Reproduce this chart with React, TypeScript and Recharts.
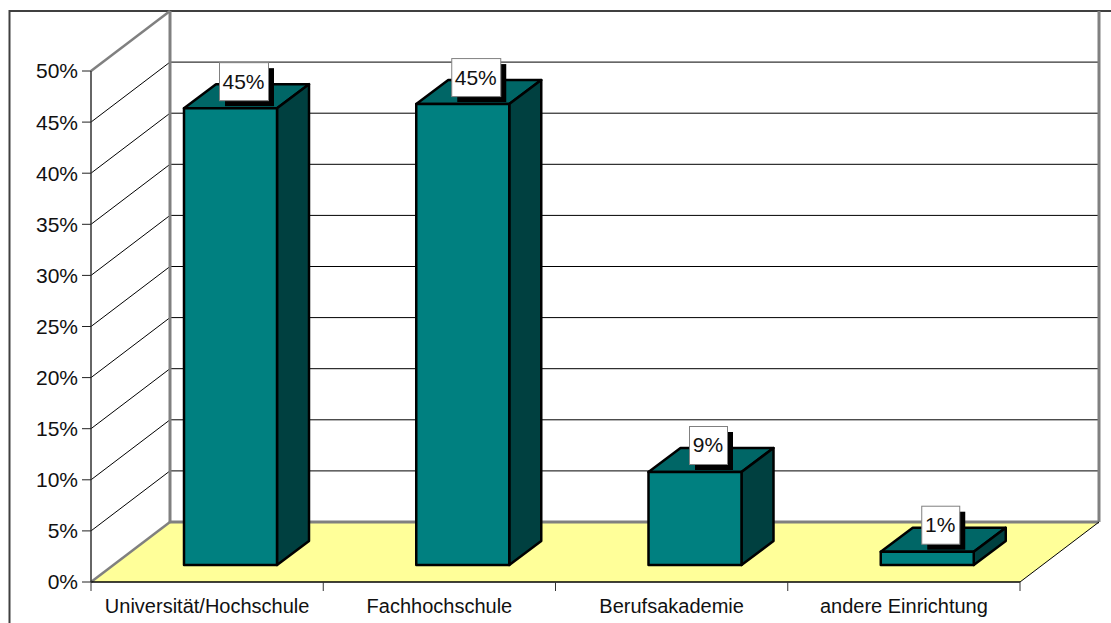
import React from "react";
import { BarChart, Bar, XAxis, YAxis, CartesianGrid, ReferenceArea, LabelList } from "recharts";

const categories = ["Universität/Hochschule", "Fachhochschule", "Berufsakademie", "andere Einrichtung"];
const shares = [44.7, 45.1, 9.1, 1.3];
const shownLabels = ["45%", "45%", "9%", "1%"];
const yTicks = [0, 5, 10, 15, 20, 25, 30, 35, 40, 45, 50];

const rows = categories.map((name, i) => ({ name, share: shares[i], label: shownLabels[i] }));

const FONT = "'Liberation Sans', Arial, sans-serif";
const WALL_DX = 79;
const WALL_DY = 60;
const BAR_DX = 32;
const BAR_DY = 24;
const BAR_SHIFT_X = 23;
const BAR_SHIFT_Y = 17;

const Walls = (p: any) => {
  const { x, y, width, height } = p;
  const r = x + width;
  const b = y + height;
  const g = "#808080";
  return (
    <g>
      <path d="M1111 11H9.5V623" fill="none" stroke="#404040" strokeWidth={2} />
      <polygon points={`${x},${b} ${x + WALL_DX},${b - WALL_DY} ${r + WALL_DX},${b - WALL_DY} ${r},${b}`} fill="#FFFF99" />
      <line x1={x + WALL_DX} y1={y - WALL_DY} x2={x + WALL_DX} y2={b - WALL_DY} stroke={g} strokeWidth={3} />
      <line x1={r + WALL_DX} y1={y - WALL_DY} x2={r + WALL_DX} y2={b - WALL_DY} stroke={g} strokeWidth={3} />
      <line x1={x + WALL_DX} y1={b - WALL_DY} x2={r + WALL_DX} y2={b - WALL_DY} stroke={g} strokeWidth={3} />
      <line x1={x} y1={y} x2={x + WALL_DX} y2={y - WALL_DY} stroke={g} strokeWidth={2.5} />
      <line x1={x} y1={b} x2={x + WALL_DX} y2={b - WALL_DY} stroke={g} strokeWidth={2.5} />
      <line x1={r} y1={b} x2={r + WALL_DX} y2={b - WALL_DY} stroke="#000" strokeWidth={1} />
    </g>
  );
};

const GridLine = (p: any) => {
  const { x1, y1, x2, y2, index } = p;
  if (index === 0 || index === yTicks.length - 1) return <g key={p.key} />;
  return (
    <g key={p.key}>
      <line x1={x1} y1={y1} x2={x1 + WALL_DX} y2={y1 - WALL_DY} stroke="#000" strokeWidth={1} />
      <line x1={x1 + WALL_DX} y1={y2 - WALL_DY} x2={x2 + WALL_DX} y2={y2 - WALL_DY} stroke="#000" strokeWidth={1} />
    </g>
  );
};

const Cuboid = (p: any) => {
  const { x, y, width, height } = p;
  const l = x + BAR_SHIFT_X;
  const t = y - BAR_SHIFT_Y;
  const r = l + width;
  const b = t + height;
  const common = { stroke: "#000", strokeWidth: 2.5, strokeLinejoin: "round" as const };
  return (
    <g>
      <polygon points={`${l},${t} ${r},${t} ${r + BAR_DX},${t - BAR_DY} ${l + BAR_DX},${t - BAR_DY}`} fill="#006666" {...common} />
      <polygon points={`${r},${t} ${r + BAR_DX},${t - BAR_DY} ${r + BAR_DX},${b - BAR_DY} ${r},${b}`} fill="#004040" {...common} />
      <rect x={l} y={t} width={width} height={height} fill="#008080" {...common} />
    </g>
  );
};

const ValueBox = (p: any) => {
  const { x, y, width, value } = p;
  const text = String(value);
  const w = text.length > 2 ? 49 : 38;
  const h = 38;
  const cx = x + BAR_SHIFT_X + width / 2 + 13;
  const cy = y - BAR_SHIFT_Y - 27;
  return (
    <g>
      <rect x={cx - w / 2 + 6} y={cy - h / 2 + 6} width={w} height={h} fill="#000" />
      <rect x={cx - w / 2 + 0.5} y={cy - h / 2 + 0.5} width={w} height={h} fill="#fff" stroke="#808080" strokeWidth={1} />
      <text x={cx} y={cy + 7.5} textAnchor="middle" fontFamily={FONT} fontSize={21} fill="#111">{text}</text>
    </g>
  );
};

const CategoryTick = (p: any) => {
  const { x, y, payload, index } = p;
  const half = 232.25 / 2;
  const base = 582;
  return (
    <g>
      <line x1={x - half} y1={base} x2={x - half} y2={base + 9} stroke="#333" strokeWidth={1} />
      {index === categories.length - 1 && <line x1={x + half} y1={base} x2={x + half} y2={base + 9} stroke="#333" strokeWidth={1} />}
      <text x={x} y={y + 23} textAnchor="middle" fontFamily={FONT} fontSize={20} fill="#111">{payload.value}</text>
    </g>
  );
};

export default function App() {
  return (
    <div style={{ position: "absolute", left: 0, top: 0, width: 1111, height: 623, background: "#fff", overflow: "hidden" }}>
      <BarChart width={1111} height={623} data={rows} margin={{ top: 71, right: 91, bottom: 0, left: 0 }}>
        <ReferenceArea y1={0} y2={50} shape={Walls} ifOverflow="visible" fill="none" />
        <CartesianGrid vertical={false} horizontal={GridLine as any} />
        <XAxis dataKey="name" height={41} interval={0} tickLine={false} axisLine={{ stroke: "#000", strokeWidth: 1.5 }} tick={CategoryTick as any} />
        <YAxis
          width={91}
          domain={[0, 50]}
          ticks={yTicks}
          interval={0}
          tickFormatter={(v: number) => `${v}%`}
          tickSize={9}
          tickMargin={4}
          tickLine={{ stroke: "#222", strokeWidth: 1 }}
          axisLine={{ stroke: "#333", strokeWidth: 1.5 }}
          tick={{ fontFamily: FONT, fontSize: 21, fill: "#111" }}
        />
        <Bar dataKey="share" barSize={93} shape={Cuboid} isAnimationActive={false}>
          <LabelList dataKey="label" content={ValueBox as any} />
        </Bar>
      </BarChart>
    </div>
  );
}
